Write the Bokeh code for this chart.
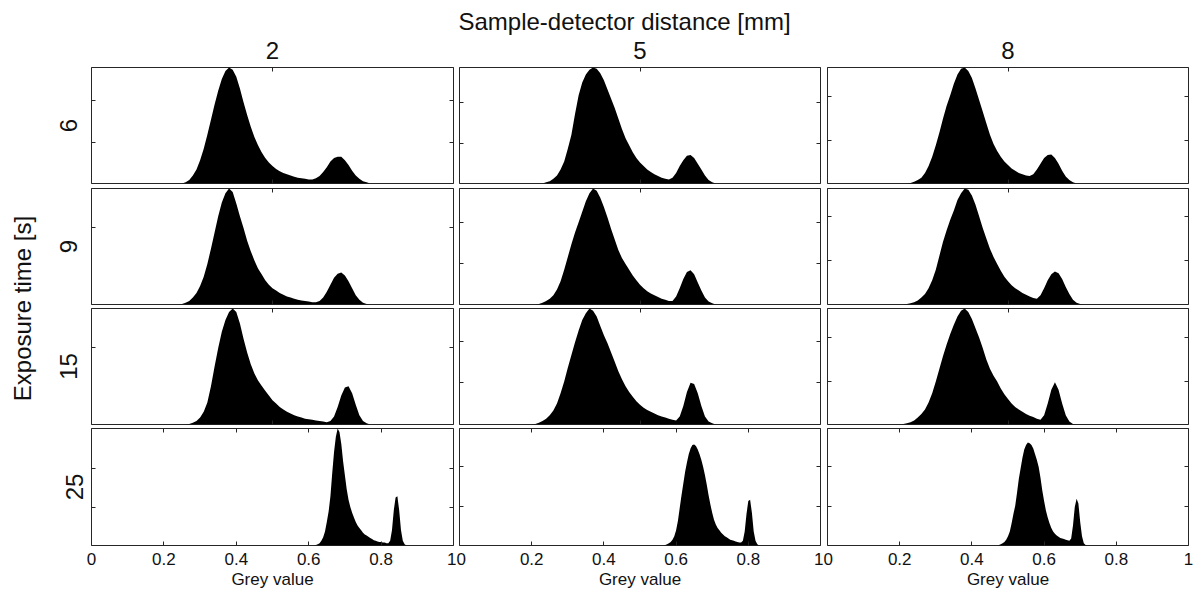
from bokeh.plotting import figure
from bokeh.models import Range1d, LinearAxis, FixedTicker, Label
from bokeh.layouts import gridplot, row, column
from bokeh.embed import file_html
from bokeh.resources import INLINE

FONT = "Liberation Sans"
TXT = "#111111"
EDGE = "#262626"

# ---------------- data ----------------
distances = ["2", "5", "8"]            # column titles (sample-detector distance, mm)
exposures = ["6", "9", "15", "25"]     # row labels (exposure time, s)
grey_ticks = [0, 0.2, 0.4, 0.6, 0.8, 1]
grey_tick_labels = ["0", "0.2", "0.4", "0.6", "0.8", "1"]
upper_grey_ticks = [0, 0.5, 1]

# relative histogram counts (panel maximum = 1); bins of 0.01 (rows 6/9/15 s) and 0.005 (25 s)
start_6_2, h_6_2 = 0.26, [0.01, 0.03, 0.07, 0.12, 0.2, 0.3, 0.42, 0.55, 0.68, 0.8, 0.9, 0.97, 1.0, 0.98, 0.92, 0.82, 0.7, 0.59, 0.49, 0.4, 0.33, 0.27, 0.22, 0.18, 0.15, 0.125, 0.105, 0.09, 0.08, 0.068, 0.058, 0.05, 0.045, 0.04, 0.035, 0.035, 0.045, 0.065, 0.1, 0.14, 0.19, 0.22, 0.23, 0.23, 0.2, 0.16, 0.11, 0.07, 0.04, 0.02, 0.01]
start_6_5, h_6_5 = 0.24, [0.01, 0.02, 0.04, 0.07, 0.12, 0.19, 0.3, 0.42, 0.6, 0.76, 0.87, 0.94, 0.98, 1.0, 0.99, 0.95, 0.89, 0.81, 0.73, 0.65, 0.56, 0.47, 0.39, 0.33, 0.27, 0.22, 0.18, 0.15, 0.12, 0.1, 0.08, 0.065, 0.05, 0.04, 0.035, 0.05, 0.09, 0.15, 0.2, 0.24, 0.245, 0.22, 0.17, 0.12, 0.07, 0.03, 0.01]
start_6_8, h_6_8 = 0.23, [0.005, 0.015, 0.03, 0.05, 0.09, 0.15, 0.23, 0.33, 0.44, 0.56, 0.67, 0.76, 0.86, 0.94, 0.99, 1.0, 0.97, 0.91, 0.82, 0.72, 0.62, 0.52, 0.42, 0.34, 0.28, 0.23, 0.19, 0.16, 0.13, 0.11, 0.09, 0.08, 0.07, 0.065, 0.08, 0.12, 0.17, 0.22, 0.245, 0.25, 0.22, 0.17, 0.11, 0.06, 0.03, 0.01]
start_9_2, h_9_2 = 0.25, [0.005, 0.015, 0.03, 0.06, 0.1, 0.16, 0.24, 0.35, 0.48, 0.62, 0.76, 0.88, 0.96, 1.0, 0.97, 0.87, 0.76, 0.66, 0.55, 0.46, 0.38, 0.31, 0.26, 0.21, 0.17, 0.14, 0.12, 0.1, 0.085, 0.07, 0.06, 0.05, 0.04, 0.035, 0.03, 0.025, 0.02, 0.02, 0.03, 0.06, 0.11, 0.17, 0.23, 0.265, 0.275, 0.25, 0.2, 0.14, 0.08, 0.04, 0.015, 0.005]
start_9_5, h_9_5 = 0.22, [0.005, 0.015, 0.03, 0.05, 0.08, 0.13, 0.2, 0.3, 0.41, 0.52, 0.62, 0.71, 0.8, 0.89, 0.96, 1.0, 0.98, 0.92, 0.84, 0.75, 0.65, 0.56, 0.47, 0.4, 0.35, 0.3, 0.25, 0.21, 0.17, 0.14, 0.115, 0.095, 0.08, 0.065, 0.05, 0.04, 0.03, 0.03, 0.07, 0.14, 0.22, 0.28, 0.295, 0.26, 0.19, 0.12, 0.06, 0.025, 0.01]
start_9_8, h_9_8 = 0.22, [0.005, 0.01, 0.02, 0.035, 0.06, 0.09, 0.14, 0.21, 0.3, 0.42, 0.54, 0.64, 0.73, 0.81, 0.9, 0.96, 1.0, 0.99, 0.94, 0.86, 0.76, 0.66, 0.57, 0.48, 0.41, 0.35, 0.29, 0.24, 0.2, 0.165, 0.14, 0.12, 0.1, 0.085, 0.07, 0.055, 0.05, 0.08, 0.14, 0.21, 0.26, 0.285, 0.27, 0.22, 0.15, 0.09, 0.04, 0.015, 0.005]
start_15_2, h_15_2 = 0.27, [0.005, 0.015, 0.03, 0.06, 0.11, 0.19, 0.33, 0.5, 0.66, 0.8, 0.9, 0.97, 1.0, 0.97, 0.87, 0.74, 0.62, 0.52, 0.44, 0.38, 0.335, 0.29, 0.25, 0.21, 0.18, 0.15, 0.13, 0.11, 0.095, 0.08, 0.07, 0.06, 0.05, 0.045, 0.04, 0.035, 0.03, 0.025, 0.02, 0.03, 0.07, 0.15, 0.25, 0.32, 0.33, 0.27, 0.17, 0.08, 0.03, 0.01]
start_15_5, h_15_5 = 0.21, [0.005, 0.015, 0.03, 0.05, 0.08, 0.12, 0.18, 0.27, 0.37, 0.49, 0.6, 0.71, 0.81, 0.9, 0.96, 1.0, 0.98, 0.93, 0.85, 0.77, 0.7, 0.62, 0.54, 0.46, 0.39, 0.33, 0.28, 0.24, 0.2, 0.17, 0.145, 0.125, 0.11, 0.095, 0.08, 0.07, 0.06, 0.05, 0.04, 0.035, 0.07, 0.16, 0.28, 0.36, 0.35, 0.27, 0.16, 0.07, 0.025, 0.01]
start_15_8, h_15_8 = 0.21, [0.005, 0.01, 0.02, 0.035, 0.06, 0.09, 0.13, 0.19, 0.27, 0.37, 0.48, 0.59, 0.69, 0.78, 0.86, 0.93, 0.98, 1.0, 0.97, 0.91, 0.83, 0.75, 0.66, 0.56, 0.48, 0.42, 0.37, 0.31, 0.26, 0.22, 0.18, 0.15, 0.13, 0.11, 0.09, 0.075, 0.065, 0.05, 0.04, 0.08, 0.18, 0.3, 0.365, 0.3, 0.18, 0.08, 0.025, 0.005]
start_25_2, h_25_2 = 0.62, [0.005, 0.01, 0.02, 0.04, 0.07, 0.12, 0.2, 0.29, 0.42, 0.62, 0.8, 0.93, 1.0, 0.97, 0.87, 0.72, 0.6, 0.48, 0.39, 0.33, 0.28, 0.24, 0.2, 0.17, 0.15, 0.13, 0.11, 0.095, 0.085, 0.075, 0.065, 0.055, 0.045, 0.04, 0.035, 0.03, 0.03, 0.025, 0.025, 0.02, 0.02, 0.04, 0.13, 0.3, 0.41, 0.42, 0.3, 0.13, 0.04, 0.01]
start_25_5, h_25_5 = 0.57, [0.005, 0.01, 0.02, 0.03, 0.05, 0.08, 0.13, 0.21, 0.32, 0.43, 0.53, 0.63, 0.71, 0.78, 0.83, 0.86, 0.863, 0.85, 0.82, 0.78, 0.73, 0.67, 0.6, 0.52, 0.43, 0.35, 0.28, 0.22, 0.18, 0.15, 0.13, 0.11, 0.095, 0.08, 0.07, 0.06, 0.05, 0.045, 0.04, 0.035, 0.03, 0.025, 0.025, 0.04, 0.12, 0.27, 0.38, 0.39, 0.28, 0.12, 0.04, 0.01]
start_25_8, h_25_8 = 0.475, [0.005, 0.01, 0.02, 0.03, 0.05, 0.08, 0.12, 0.19, 0.27, 0.34, 0.45, 0.57, 0.66, 0.75, 0.82, 0.86, 0.88, 0.875, 0.86, 0.83, 0.78, 0.73, 0.67, 0.58, 0.47, 0.38, 0.3, 0.24, 0.19, 0.15, 0.12, 0.1, 0.085, 0.075, 0.065, 0.06, 0.055, 0.05, 0.045, 0.04, 0.06, 0.17, 0.33, 0.4, 0.36, 0.2, 0.08, 0.02, 0.005]
bin_width = [0.01, 0.01, 0.01, 0.005]

# y tick positions (relative counts) per panel
yticks_6 = [[0.353, 0.716], [0.342, 0.70], [0.371, 0.753]]
yticks_9 = [[0.664], [0.353, 0.707], [0.382, 0.761]]
yticks_15 = [[0.662], [0.36, 0.714], [0.371, 0.751]]
yticks_25 = [[0.328, 0.662], [0.334, 0.671], [0.334, 0.671]]

hist = [
    [(start_6_2, h_6_2), (start_6_5, h_6_5), (start_6_8, h_6_8)],
    [(start_9_2, h_9_2), (start_9_5, h_9_5), (start_9_8, h_9_8)],
    [(start_15_2, h_15_2), (start_15_5, h_15_5), (start_15_8, h_15_8)],
    [(start_25_2, h_25_2), (start_25_5, h_25_5), (start_25_8, h_25_8)],
]
yticks = [yticks_6, yticks_9, yticks_15, yticks_25]

# ---------------- layout (pixels) ----------------
col_left = [53, 3, 4]
col_right = [3, 3, 5]
col_fw = [362, 361, 361]
row_top = [1, 3, 2, 2]
row_bot = [2, 2, 2, 48]
row_fh = [116, 116, 116, 117]
row_label_standoff = [15, 15, 15, 9]
HEADER_H = 66
STRIP_W = 38
TOTAL_W = 1193
TOTAL_H = 593


def style_axis(ax):
    ax.axis_line_color = None
    ax.major_tick_in = 4
    ax.major_tick_out = 0
    ax.major_tick_line_color = EDGE
    ax.major_tick_line_width = 1
    ax.minor_tick_line_color = None
    ax.major_label_text_font_size = "0px"
    ax.major_label_text_color = None
    ax.major_label_standoff = 0
    ax.axis_label_text_font = FONT


figs = []
for r in range(4):
    row_figs = []
    for c in range(3):
        start, h = hist[r][c]
        step = bin_width[r]
        xs = [round(start + (i - 1) * step, 4) for i in range(len(h) + 2)]
        ys = [0.0] + list(h) + [0.0]
        p = figure(frame_width=col_fw[c], frame_height=row_fh[r],
                   x_range=Range1d(0, 1), y_range=Range1d(0, 1),
                   x_axis_type=None, y_axis_type=None, title=None,
                   toolbar_location=None, output_backend="svg",
                   min_border_left=col_left[c], min_border_right=col_right[c],
                   min_border_top=row_top[r], min_border_bottom=row_bot[r],
                   outline_line_color=EDGE, outline_line_width=1,
                   background_fill_color="white", border_fill_color="white")
        p.varea(x=xs, y1=0, y2=ys, fill_color="black", fill_alpha=1.0)

        xt = grey_ticks if r == 3 else upper_grey_ticks
        for loc in ["below", "above"]:
            ax = LinearAxis(ticker=FixedTicker(ticks=xt))
            style_axis(ax)
            if loc == "below" and r == 3:
                ax.major_label_text_font_size = "17px"
                ax.major_label_text_font = FONT
                ax.major_label_text_color = TXT
                ax.major_label_standoff = 7
                ax.major_label_overrides = {t: lab for t, lab in zip(grey_ticks, grey_tick_labels)}
                ax.axis_label = "Grey value"
                ax.axis_label_text_font_size = "17px"
                ax.axis_label_text_font_style = "normal"
                ax.axis_label_text_color = TXT
                ax.axis_label_standoff = 2
            p.add_layout(ax, loc)
        for loc in ["left", "right"]:
            ax = LinearAxis(ticker=FixedTicker(ticks=yticks[r][c]))
            style_axis(ax)
            if loc == "left" and c == 0:
                ax.axis_label = exposures[r]
                ax.axis_label_text_font_size = "24px"
                ax.axis_label_text_font_style = "normal"
                ax.axis_label_text_color = TXT
                ax.axis_label_standoff = row_label_standoff[r]
            p.add_layout(ax, loc)
        row_figs.append(p)
    figs.append(row_figs)

grid = gridplot(figs, toolbar_location=None)

# header: overall title and the three column titles, in pixel-like coordinates
header = figure(width=TOTAL_W, height=HEADER_H, x_range=Range1d(0, TOTAL_W), y_range=Range1d(0, HEADER_H),
                x_axis_type=None, y_axis_type=None, title=None, toolbar_location=None,
                output_backend="svg", min_border_left=0, min_border_right=0, min_border_top=0,
                min_border_bottom=0, outline_line_color=None)
header.add_layout(Label(x=624, y=45, text="Sample-detector distance [mm]", text_align="center",
                        text_baseline="middle", text_font=FONT, text_font_size="24px",
                        text_color=TXT))
col_centers = [272, 639.5, 1007.5]
for c in range(3):
    header.add_layout(Label(x=col_centers[c], y=16, text=distances[c], text_align="center",
                            text_baseline="middle", text_font=FONT, text_font_size="24px",
                            text_color=TXT))

# left strip with overall row title
strip_h = TOTAL_H - HEADER_H
strip = figure(width=STRIP_W, height=strip_h, x_range=Range1d(0, STRIP_W), y_range=Range1d(0, strip_h),
               x_axis_type=None, y_axis_type=None, title=None, toolbar_location=None,
               output_backend="svg", min_border_left=0, min_border_right=0, min_border_top=0,
               min_border_bottom=0, outline_line_color=None)
strip.add_layout(Label(x=22, y=285, text="Exposure time [s]", angle=90, angle_units="deg",
                       text_align="center", text_baseline="middle", text_font=FONT,
                       text_font_size="24px", text_color=TXT))

layout = column(header, row(strip, grid))

with open("out.html", "w") as f:
    f.write(file_html(layout, INLINE))
